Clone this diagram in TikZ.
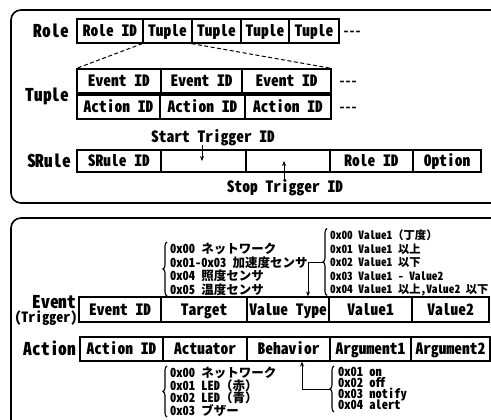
\documentclass[tikz,border=0pt]{standalone}
\usepackage{fontspec}
\usetikzlibrary{arrows.meta,decorations.pathreplacing}
\newfontfamily\hwfont{Noto Sans CJK JP}[CharacterWidth=Half]
\newfontfamily\jpfont{Noto Sans CJK JP}
\newcommand\jpt[1]{{\jpfont\bfseries #1}}
\newcommand\fsz[1]{\fontsize{#1}{#1}\selectfont}
\tikzset{
  panel/.style={line width=1.6pt, rounded corners=10pt},
  lab/.style={inner sep=0pt, font=\hwfont\bfseries\fsz{17.5}, text height=12.8pt, text depth=0pt},
  sublab/.style={inner sep=0pt, font=\hwfont\bfseries\fsz{14}, text height=10.2pt, text depth=0pt},
  txt/.style={inner sep=0pt, font=\hwfont\bfseries\fsz{15.5}, text height=11.3pt, text depth=0pt},
  cell/.style={draw, line width=1.2pt, inner sep=0pt, font=\hwfont\bfseries\fsz{15.5}, text height=11.3pt, text depth=0pt, minimum height=24pt},
  srcell/.style={cell, minimum height=22pt},
  evcell/.style={cell, minimum height=25pt},
  lst/.style={inner sep=0pt, anchor=west, font=\hwfont\bfseries\fsz{12.5}, text height=9.1pt, text depth=0pt},
  vlst/.style={lst, font=\hwfont\bfseries\fsz{11.3}, text height=8.3pt},
  dots/.style={inner sep=0pt, font=\hwfont\bfseries\fsz{12}, text height=8.8pt, text depth=0pt},
  arr/.style={-{Stealth[length=5pt,width=4pt]}, line width=1pt},
  brc/.style={decorate, decoration={brace, amplitude=4pt}, line width=1.1pt},
  dsh/.style={line width=1pt, dash pattern=on 4pt off 2.5pt}
}
\begin{document}
\begin{tikzpicture}[x=1pt,y=-1pt]
\useasboundingbox (0,0) rectangle (491,420);
\fill[white] (0,0) rectangle (491,420);
\clip (0,0) rectangle (491,420);
% ---------- panel 1 ----------
\draw[panel] (11,10) rectangle (530,203);
\node[lab] (rolelab) at (51.5,31) {Role};
\node[cell, minimum width=66pt] (rid) at (110,31) {Role ID};
\node[cell, minimum width=49pt] (t1) at (167.5,31) {Tuple};
\node[cell, minimum width=49pt] (t2) at (216.5,31) {Tuple};
\node[cell, minimum width=48pt] (t3) at (265,31) {Tuple};
\node[cell, minimum width=50pt] (t4) at (314,31) {Tuple};
\node[dots] (rdots) at (352,31) {-{}-{}-};

\node[lab] (tuplab) at (47.5,95) {Tuple};
\node[cell, minimum width=84pt] (te1) at (119,81) {Event ID};
\node[cell, minimum width=81pt] (te2) at (201.5,81) {Event ID};
\node[cell, minimum width=89pt] (te3) at (286.5,81) {Event ID};
\node[dots] (edots) at (348,81) {-{}-{}-};
\node[cell, minimum width=83pt] (ta1) at (118.5,107) {Action ID};
\node[cell, minimum width=85pt] (ta2) at (202.5,107) {Action ID};
\node[cell, minimum width=86pt] (ta3) at (288,107) {Action ID};
\node[dots] (adots) at (348,107) {-{}-{}-};
\draw[dsh] (t1.south west) -- (te1.north west);
\draw[dsh] (t2.south west) -- (te3.north east);

\node[txt] (start) at (213,137) {Start Trigger ID};
\node[lab] (srlab) at (49,161) {SRule};
\node[srcell, minimum width=84pt] (s1) at (119,161) {SRule ID};
\node[srcell, minimum width=85pt] (s2) at (203.5,161) {};
\node[srcell, minimum width=84pt] (s3) at (288,161) {};
\node[srcell, minimum width=83pt] (s4) at (371.5,161) {Role ID};
\node[srcell, minimum width=68pt] (s5) at (447,161) {Option};
\node[txt] (stop) at (285,187) {Stop Trigger ID};
\draw[arr] ([xshift=-11pt,yshift=-2pt]start.south) -- ([xshift=-11pt]start.south |- s2.center);
\draw[arr] ([xshift=-1pt,yshift=1pt]stop.north) -- ([xshift=-1pt]stop.north |- s3.center);

% ---------- panel 2 ----------
\draw[panel] (11,218) rectangle (530,445);
\node[lst] (tg1) at (170,249) {0x00 \jpt{ネットワーク}};
\node[lst] (tg2) at (170,262.5) {0x01-0x03 \jpt{加速度センサ}};
\node[lst] (tg3) at (170,276) {0x04 \jpt{照度センサ}};
\node[lst] (tg4) at (170,289.5) {0x05 \jpt{温度センサ}};
\draw[brc] ([shift={(-3,6.5)}]tg4.west) -- ([shift={(-3,-7)}]tg1.west);

\node[vlst] (vl1) at (330,235.5) {0x00 Value1\jpt{（丁度）}};
\node[vlst] (vl2) at (330,249) {0x01 Value1 \jpt{以上}};
\node[vlst] (vl3) at (330,262.5) {0x02 Value1 \jpt{以下}};
\node[vlst] (vl4) at (330,276) {0x03 Value1 - Value2};
\node[vlst] (vl5) at (330,289.5) {0x04 Value1 \jpt{以上},Value2 \jpt{以下}};
\draw[brc] ([shift={(-3,6)}]vl5.west) -- ([shift={(-3,-7)}]vl1.west);
\coordinate (vtip) at ([xshift=-7pt]vl3.west);

\node[lab] (evlab) at (54.5,302.5) {Event};
\node[sublab] (trlab) at (46,317.5) {(Trigger)};
\node[evcell, minimum width=82pt] (ev1) at (120,309.5) {Event ID};
\node[evcell, minimum width=86pt] (ev2) at (204,309.5) {Target};
\node[evcell, minimum width=82pt] (ev3) at (288,309.5) {Value Type};
\node[evcell, minimum width=83pt] (ev4) at (370.5,309.5) {Value1};
\node[evcell, minimum width=77pt] (ev5) at (450.5,309.5) {Value2};
\draw[arr] (vtip) -| ([xshift=20pt]ev3.north);

\node[lab] (aclab) at (50,349) {Action};
\node[cell, minimum width=83pt] (ac1) at (121.5,349) {Action ID};
\node[cell, minimum width=84pt] (ac2) at (205,349) {Actuator};
\node[cell, minimum width=83pt] (ac3) at (288.5,349) {Behavior};
\node[cell, minimum width=81pt] (ac4) at (370.5,349) {Argument1};
\node[cell, minimum width=79pt] (ac5) at (450.5,349) {Argument2};

\node[lst] (al1) at (170,373) {0x00 \jpt{ネットワーク}};
\node[lst] (al2) at (170,385.5) {0x01 LED\jpt{（赤）}};
\node[lst] (al3) at (170,398) {0x02 LED\jpt{（青）}};
\node[lst] (al4) at (170,410.5) {0x03 \jpt{ブザー}};
\draw[brc] ([shift={(-3,6.5)}]al4.west) -- ([shift={(-3,-7)}]al1.west);

\node[lst] (bl1) at (338,372) {0x01 on};
\node[lst] (bl2) at (338,383) {0x02 off};
\node[lst] (bl3) at (338,394) {0x03 notify};
\node[lst] (bl4) at (338,405) {0x04 alert};
\draw[brc] ([shift={(-4,7)}]bl4.west) -- ([shift={(-4,-6)}]bl1.west);
\coordinate (btip) at (330,389);
\draw[arr] (btip) -| ([xshift=13.5pt]ac3.south);
\end{tikzpicture}
\end{document}
